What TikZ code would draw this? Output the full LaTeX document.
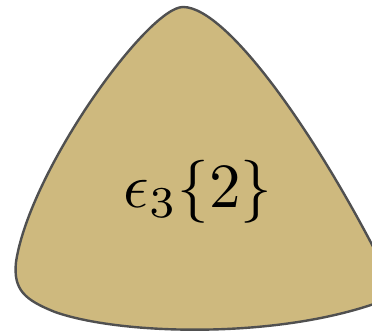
\documentclass[tikz,border=0pt]{standalone}
\definecolor{blobfill}{RGB}{206,185,126}
\definecolor{blobline}{RGB}{80,80,80}
\tikzset{blob/.style={fill=blobfill,draw=blobline,line width=2.4pt,line join=round}}
\begin{document}
\begin{tikzpicture}[x=1pt,y=-1pt]
\useasboundingbox (0,0) rectangle (372,336);
\clip (0,0) rectangle (372,336);
\draw[blob] (183,7) .. controls (148,7) and (30,170) .. (16,262)
  .. controls (13,290) and (25,300) .. (55,312)
  .. controls (120,335) and (280,340) .. (385,300)
  .. controls (395,296) and (395,285) .. (385,270)
  .. controls (320,140) and (228,7) .. (183,7) -- cycle;
\node[scale=6.3] (lbl) at (198,192) {$\epsilon_3\{2\}$};
\end{tikzpicture}
\end{document}
